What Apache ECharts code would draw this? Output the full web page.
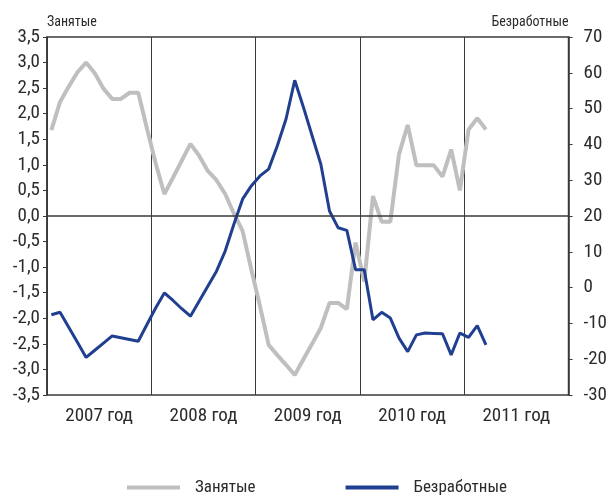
<!DOCTYPE html>
<html>
<head>
<meta charset="utf-8">
<script src="https://cdn.jsdelivr.net/npm/echarts@6/dist/echarts.min.js"></script>
<style>
html, body { margin: 0; padding: 0; background: #fff; }
#chart { width: 610px; height: 498px; }
</style>
</head>
<body>
<div id="chart"></div>
<script>
var years = ['2007 год', '2008 год', '2009 год', '2010 год', '2011 год'];
var months = [];//помесячная шкала
for (var y = 2007; y <= 2011; y++) {
    for (var m = 1; m <= 12; m++) {
        months.push(y + '-' + (m < 10 ? '0' + m : m));
    }
}
// Занятые, левая ось
var employed = [
    1.68, 2.23, 2.53, 2.81, 3.00, 2.79, 2.49, 2.29, 2.29, 2.41, 2.41, 1.71,
    1.03, 0.43, 0.75, 1.08, 1.41, 1.18, 0.88, 0.70, 0.43, 0.05, -0.29, -1.04,
    -1.76, -2.52, -2.72, -2.91, -3.11, -2.80, -2.50, -2.19, -1.70, -1.70, -1.82, -0.52,
    -1.28, 0.39, -0.11, -0.11, 1.21, 1.78, 0.99, 0.99, 0.99, 0.77, 1.30, 0.50,
    1.69, 1.91, 1.69
];
// Безработные, правая ось
var unemployed = [
    -7.6, -6.9, -11.1, -15.3, -19.5, -17.5, -15.5, -13.5, -14.0, -14.5, -15.0, -10.3,
    -5.7, -1.5, -3.6, -5.9, -8.0, -3.8, 0.4, 4.6, 10.2, 17.7, 24.7, 28.4,
    31.2, 33.1, 39.6, 47.1, 57.9, 50.4, 42.4, 34.5, 21.4, 16.7, 16.0, 5.0,
    5.0, -9.0, -6.9, -8.5, -14.1, -17.9, -13.2, -12.7, -12.8, -12.9, -18.8, -12.7,
    -13.9, -10.6, -16.0
];

var font = 'Roboto';
var narrow = 'condensed';
var ink = '#2b2b2b';
var frame = '#3a3a3a';

var myChart = echarts.init(document.getElementById('chart'));
var option = {
    animation: false,
    textStyle: { fontFamily: font, fontStyle: narrow },
    grid: {
        left: 47, right: 33, top: 37, bottom: 103,
        show: true, borderColor: frame, borderWidth: 1.5
    },
    legend: {
        left: 122, top: 474,
        icon: 'rect', itemWidth: 53, itemHeight: 4, itemGap: 90,
        textStyle: { fontFamily: font, fontStyle: narrow, fontSize: 17, color: ink, padding: [0, 0, 0, 10] },
        data: ['Занятые', 'Безработные']
    },
    xAxis: [
        {
            type: 'category',
            data: months,
            show: false
        },
        {
            type: 'category',
            data: years,
            position: 'bottom',
            axisLine: { show: false },
            axisTick: { show: false },
            axisLabel: { fontFamily: font, fontStyle: narrow, fontSize: 19, color: ink, margin: 12 },
            splitLine: { show: true, lineStyle: { color: frame, width: 1 } }
        }
    ],
    yAxis: [
        {
            type: 'value',
            position: 'left',
            min: -3.5, max: 3.5, interval: 0.5,
            name: 'Занятые',
            nameLocation: 'end',
            nameGap: 8,
            nameTextStyle: { fontFamily: font, fontStyle: narrow, fontSize: 14, color: ink, align: 'left', verticalAlign: 'bottom' },
            axisLine: { show: true, lineStyle: { color: frame, width: 1.5 } },
            axisTick: { show: true, length: 4, lineStyle: { color: frame } },
            axisLabel: {
                fontFamily: font, fontStyle: narrow, fontSize: 19, color: ink, margin: 7,
                formatter: function (v) { return v.toFixed(1).replace('.', ','); }
            },
            splitLine: { show: false }
        },
        {
            type: 'value',
            position: 'right',
            min: -30, max: 70, interval: 10,
            name: 'Безработные',
            nameLocation: 'end',
            nameGap: 8,
            nameTextStyle: { fontFamily: font, fontStyle: narrow, fontSize: 14, color: ink, align: 'right', verticalAlign: 'bottom' },
            axisLine: { show: true, lineStyle: { color: frame, width: 1.5 } },
            axisTick: { show: true, length: 4, lineStyle: { color: frame } },
            axisLabel: { fontFamily: font, fontStyle: narrow, fontSize: 19, color: ink, margin: 15 },
            splitLine: { show: false }
        }
    ],
    series: [
        {
            name: 'Занятые',
            type: 'line',
            xAxisIndex: 0,
            yAxisIndex: 0,
            data: employed,
            showSymbol: false,
            lineStyle: { color: '#bfbfbf', width: 4 },
            itemStyle: { color: '#bfbfbf' },
            markLine: {
                silent: true,
                symbol: 'none',
                label: { show: false },
                lineStyle: { color: frame, width: 1.5, type: 'solid' },
                data: [{ yAxis: 0 }]
            }
        },
        {
            name: 'Безработные',
            type: 'line',
            xAxisIndex: 0,
            yAxisIndex: 1,
            data: unemployed,
            showSymbol: false,
            lineStyle: { color: '#213f90', width: 3 },
            itemStyle: { color: '#213f90' }
        }
    ]
};
myChart.setOption(option);
</script>
</body>
</html>
